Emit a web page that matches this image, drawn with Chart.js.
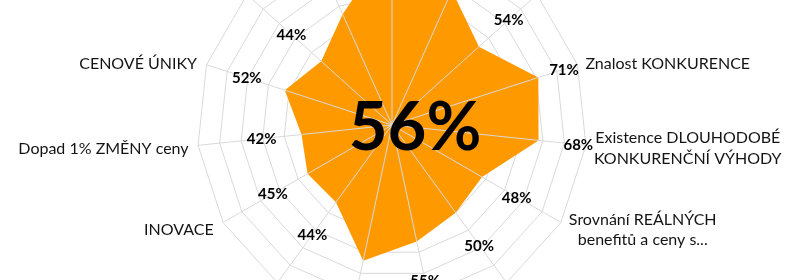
<!DOCTYPE html>
<html><head><meta charset="utf-8">
<script src="https://cdn.jsdelivr.net/npm/chart.js@4.4.1/dist/chart.umd.min.js"></script>
<style>
html,body{margin:0;padding:0;background:#fff;overflow:hidden;width:807px;height:280px;}
#wrap{position:absolute;left:0;top:-70px;width:807px;height:390px;}
</style></head><body>
<div id="wrap"><canvas id="c"></canvas></div>
<script>
// Categories (only the visible ones are known; the others lie outside the cropped view)
const categories = ['', '', '', 'Znalost KONKURENCE', ['Existence DLOUHODOBÉ', 'KONKURENČNÍ VÝHODY'],
  ['Srovnání REÁLNÝCH', 'benefitů a ceny s...'], '', '', '', '', 'INOVACE', 'Dopad 1% ZMĚNY ceny', 'CENOVÉ ÚNIKY', '', ''];
// Series values in percent
const values = [85, 68, 54, 71, 68, 48, 50, 55, 64, 44, 45, 42, 52, 44, 56];
// Scale ticks
const tickMin = 0;
const tickMax = 90;
const tickStep = 10;
// Central summary label
const centerLabel = '56%';

// style settings
const labelOffsetDefault = 40;
const labelOffsetSpecial = {3: 27};
const fillColor = '#ff9900';
const gridColor = '#d9d9d9';
const textColor = '#141414';

const overlay = {
  id: 'overlay',
  afterDatasetsDraw(chart) {
    const s = chart.scales.r;
    const ctx = chart.ctx;
    ctx.save();
    // spokes over the fill
    ctx.strokeStyle = gridColor;
    ctx.lineWidth = 1;
    for (let i = 0; i < values.length; i++) {
      const p = s.getPointPosition(i, s.drawingArea);
      ctx.beginPath();
      ctx.moveTo(s.xCenter, s.yCenter);
      ctx.lineTo(p.x, p.y);
      ctx.stroke();
    }
    // data labels
    ctx.font = 'bold 15px Lato';
    ctx.fillStyle = '#000';
    ctx.textAlign = 'center';
    ctx.textBaseline = 'alphabetic';
    values.forEach((v, i) => {
      const off = labelOffsetSpecial[i] !== undefined ? labelOffsetSpecial[i] : labelOffsetDefault;
      const p = s.getPointPosition(i, s.getDistanceFromCenterForValue(v) + off);
      ctx.fillText(v + '%', p.x, p.y + 5.5);
    });
    // category labels
    ctx.font = '16px Lato';
    ctx.fillStyle = textColor;
    const lh = 20.5;
    categories.forEach((lab, i) => {
      const lines = Array.isArray(lab) ? lab : [lab];
      if (!lines.join('')) return;
      const a = s.getIndexAngle(i);
      const p = s.getPointPosition(i, s.drawingArea);
      const shift = -Math.cos(a) * 10 + 1.5;
      const cy = p.y + shift;
      const first = cy - (lines.length - 1) * lh / 2 + 5.8;
      const maxW = Math.max(...lines.map(l => ctx.measureText(l).width));
      let cx;
      if (Math.sin(a) > 0.01) cx = p.x + 8 + maxW / 2;
      else if (Math.sin(a) < -0.01) cx = p.x - 9.5 - maxW / 2;
      else cx = p.x;
      ctx.textAlign = 'center';
      lines.forEach((l, k) => ctx.fillText(l, cx, first + k * lh));
    });
    // center label
    ctx.font = 'bold 67px Lato';
    ctx.fillStyle = '#000';
    ctx.textAlign = 'center';
    ctx.fillText(centerLabel, s.xCenter + 23, s.yCenter + 25);
    ctx.restore();
  }
};

new Chart(document.getElementById('c'), {
  type: 'radar',
  data: {
    labels: categories,
    datasets: [{
      data: values,
      backgroundColor: fillColor,
      borderColor: 'rgba(0,0,0,0)',
      borderWidth: 0,
      pointRadius: 0,
      pointHoverRadius: 0,
      fill: true
    }]
  },
  options: {
    responsive: true,
    maintainAspectRatio: false,
    animation: false,
    events: [],
    layout: {padding: {left: 0, right: 22, top: 0, bottom: 0}},
    plugins: {legend: {display: false}, tooltip: {enabled: false}},
    scales: {
      r: {
        min: tickMin,
        max: tickMax,
        ticks: {display: false, stepSize: tickStep},
        grid: {color: gridColor, lineWidth: 1, circular: false},
        angleLines: {display: false},
        pointLabels: {display: false}
      }
    }
  },
  plugins: [overlay]
});
</script>
</body></html>
